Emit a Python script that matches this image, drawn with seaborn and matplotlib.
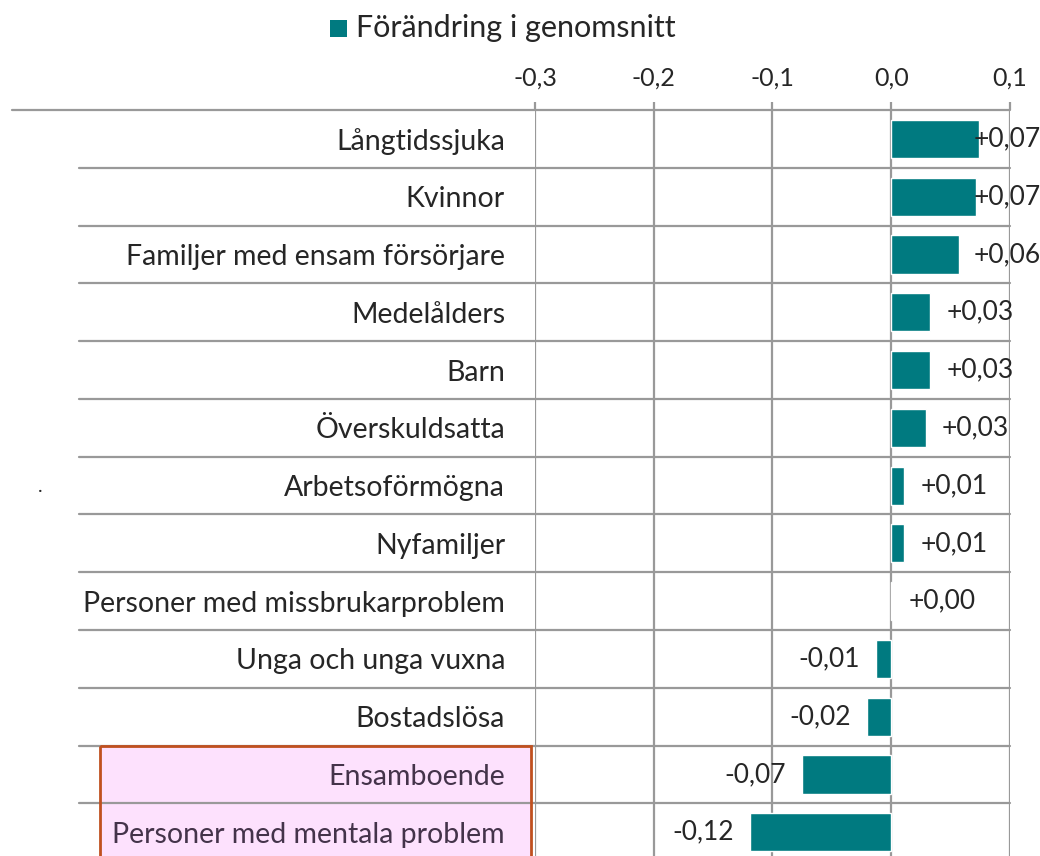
import matplotlib
matplotlib.use("Agg")
import matplotlib.pyplot as plt
import matplotlib.transforms as mtransforms
from matplotlib.lines import Line2D
from matplotlib.patches import Rectangle
import seaborn as sns
import pandas as pd

# data
categories = ["Långtidssjuka", "Kvinnor", "Familjer med ensam försörjare", "Medelålders",
              "Barn", "Överskuldsatta", "Arbetsoförmögna", "Nyfamiljer",
              "Personer med missbrukarproblem", "Unga och unga vuxna", "Bostadslösa",
              "Ensamboende", "Personer med mentala problem"]
values = [0.074, 0.071, 0.057, 0.033, 0.033, 0.029, 0.011, 0.011, 0.001,
          -0.013, -0.020, -0.075, -0.119]
value_labels = ["+0,07", "+0,07", "+0,06", "+0,03", "+0,03", "+0,03", "+0,01", "+0,01",
                "+0,00", "-0,01", "-0,02", "-0,07", "-0,12"]
highlighted = ["Ensamboende", "Personer med mentala problem"]
xticks = [-0.3, -0.2, -0.1, 0.0, 0.1]
xtick_labels = ["-0,3", "-0,2", "-0,1", "0,0", "0,1"]
legend_label = "Förändring i genomsnitt"

df = pd.DataFrame({"kategori": categories, "varde": values})

sns.set_style("white")
plt.rcParams["font.family"] = ["Lato", "DejaVu Sans"]

W, H = 1040, 856
fig = plt.figure(figsize=(W / 100, H / 100), dpi=100)
ax = fig.add_axes([535 / W, 0, (1010 - 535) / W, 1 - 110 / H])

teal = "#007A80"
grid_c = "#999999"

sns.barplot(data=df, x="varde", y="kategori", orient="h", color=teal,
            saturation=1, width=0.66, ax=ax, zorder=3)

ax.set_xlim(-0.3, 0.1)
ax.set_ylim(12.41, -0.5)
ax.set_xlabel("")
ax.set_ylabel("")
for s in ax.spines.values():
    s.set_visible(False)

ax.xaxis.tick_top()
ax.set_xticks(xticks)
ax.set_xticklabels(xtick_labels, fontsize=18)
ax.tick_params(axis="x", direction="out", length=6, width=1.6, color=grid_c, pad=9)
ax.grid(axis="x", color=grid_c, lw=1.6, zorder=1)
ax.set_axisbelow(True)

ax.tick_params(axis="y", length=0, pad=21.6)
ax.set_yticks(range(len(categories)))
ax.set_yticklabels(categories, fontsize=20.5)
for t in ax.get_yticklabels():
    if t.get_text() in highlighted:
        t.set_color("#44334A")

# row separators reaching into the label column
tr = mtransforms.blended_transform_factory(fig.transFigure, ax.transData)
fig.add_artist(Line2D([12 / W, 1010 / W], [-0.5, -0.5], transform=tr, color=grid_c, lw=1.6, zorder=2))
for i in range(len(categories) - 1):
    fig.add_artist(Line2D([79 / W, 1010 / W], [i + 0.5, i + 0.5], transform=tr,
                          color=grid_c, lw=1.6, zorder=2))

# highlight box for the last two groups
first = categories.index(highlighted[0])
fig.add_artist(Rectangle((100 / W, first - 0.5), (531 - 100) / W, 3, transform=tr,
                         facecolor="#FDE1FD", edgecolor="none", zorder=-1))
fig.add_artist(Rectangle((100 / W, first - 0.5), (531 - 100) / W, 3, transform=tr,
                         facecolor="none", edgecolor="#C0501F", lw=2, zorder=2.5))

# value labels
for i, (v, lab) in enumerate(zip(values, value_labels)):
    if v >= 0:
        ax.text(min(v + 0.0135, 0.069), i, lab, ha="left", va="center", fontsize=19, zorder=4)
    else:
        ax.text(v - 0.0135, i, lab, ha="right", va="center", fontsize=19, zorder=4)

# legend
fig.add_artist(Rectangle((330 / W, 1 - 37 / H), 17 / W, 17 / H, transform=fig.transFigure,
                         facecolor=teal, edgecolor="none"))
fig.text(356 / W, 1 - 28 / H, legend_label, ha="left", va="center", fontsize=22)

fig.text(40 / W, 1 - 486 / H, ".", ha="center", va="center", fontsize=14)

fig.savefig("out.png", dpi=100)
